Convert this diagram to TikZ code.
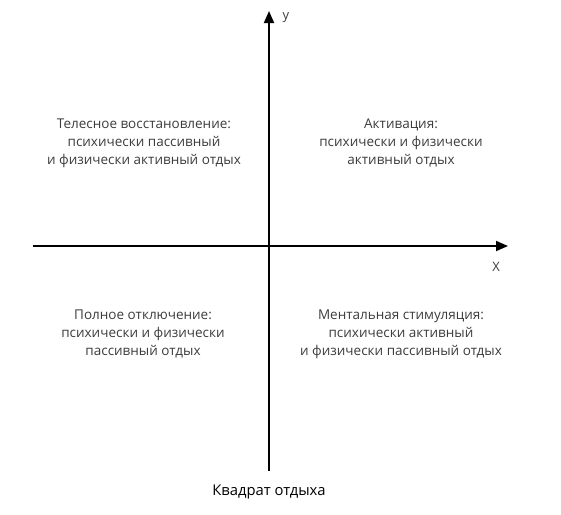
\documentclass[tikz,border=0pt]{standalone}
\usepackage{fontspec}
\setmainfont{Open Sans}
\usetikzlibrary{arrows.meta}
\definecolor{txtgray}{RGB}{60,60,60}
\begin{document}
\begin{tikzpicture}[x=1pt,y=-1pt,
  axis/.style={line width=1.8pt,-{Triangle[length=12pt,width=10pt]}},
  quad/.style={align=center,text=txtgray,font=\fontsize{13.5}{18}\selectfont,inner sep=0pt},
  axlabel/.style={text=txtgray,font=\fontsize{13}{14}\selectfont,inner sep=0pt}]
\useasboundingbox (0,0) rectangle (561,514);
\coordinate (ybot) at (269,471);
\coordinate (ytop) at (269,11);
\coordinate (xl) at (33,246);
\coordinate (xr) at (508,246);
\draw[axis] (ybot) -- (ytop);
\draw[axis] (xl) -- (xr);
\node[axlabel] (ylab) at (286,18) {y};
\node[axlabel] (xlab) at (496,267) {X};
\node[quad] (q1) at (144,143) {Телесное восстановление:\\психически пассивный\\и физически активный отдых};
\node[quad] (q2) at (401,143) {Активация:\\психически и физически\\активный отдых};
\node[quad] (q3) at (143,334) {Полное отключение:\\психически и физически\\пассивный отдых};
\node[quad] (q4) at (401,334) {Ментальная стимуляция:\\психически активный\\и физически пассивный отдых};
\node[inner sep=0pt,font=\fontsize{14.8}{16}\selectfont] (cap) at (269,492) {Квадрат отдыха};
\end{tikzpicture}
\end{document}
